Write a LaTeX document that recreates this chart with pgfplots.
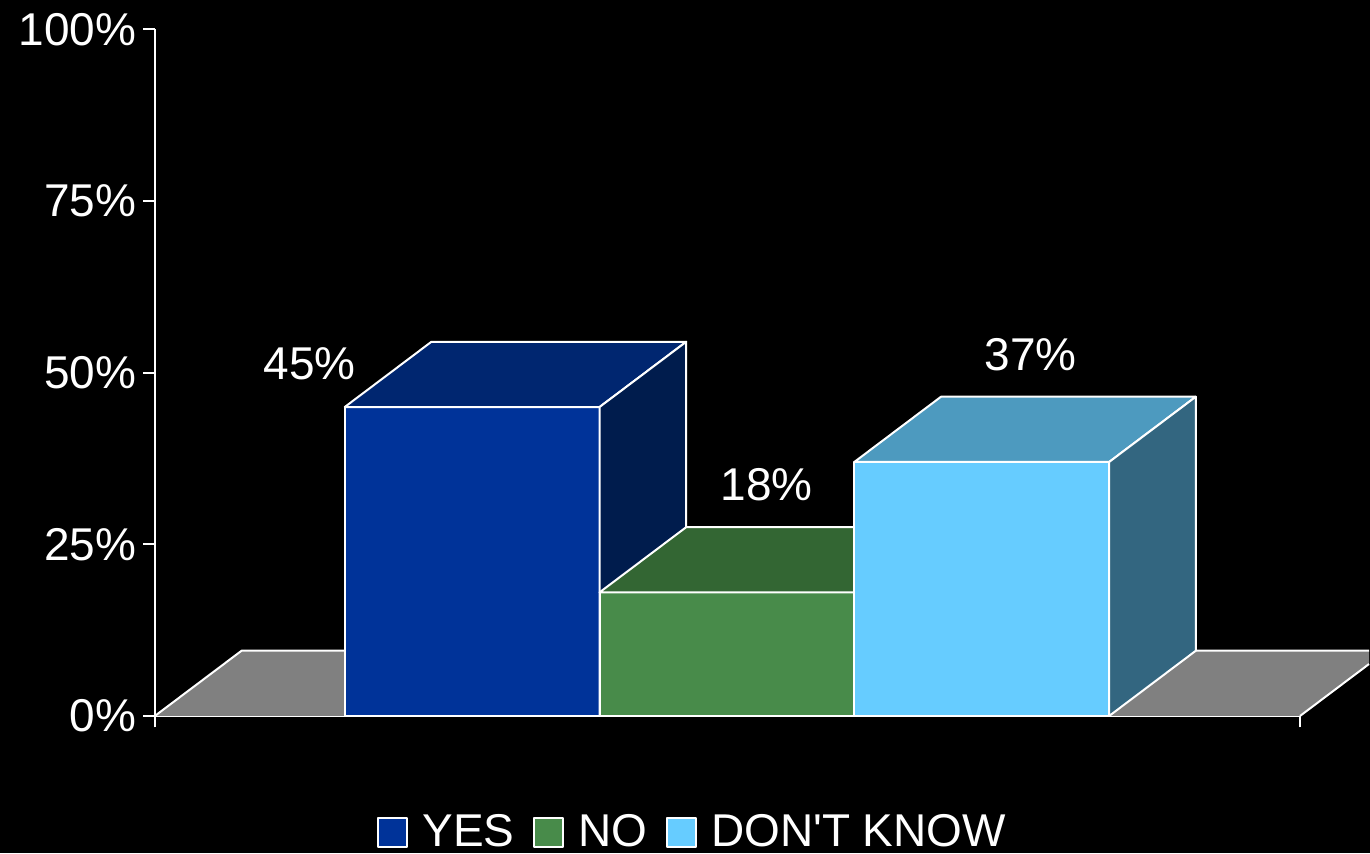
\documentclass[border=0pt]{standalone}
\usepackage{pgfplots}
\pgfplotsset{compat=1.18}
\usepackage{fontspec}
\setmainfont{Liberation Sans}[Ligatures=TeXOff]
\usetikzlibrary{backgrounds}
\definecolor{yesF}{RGB}{0,51,153}
\definecolor{yesT}{RGB}{0,38,112}
\definecolor{yesS}{RGB}{0,28,77}
\definecolor{noF}{RGB}{72,139,74}
\definecolor{noT}{RGB}{51,102,51}
\definecolor{noS}{RGB}{36,72,36}
\definecolor{dkF}{RGB}{102,204,255}
\definecolor{dkT}{RGB}{77,154,191}
\definecolor{dkS}{RGB}{51,102,128}
\definecolor{floorc}{RGB}{128,128,128}
\newcommand\chartfont{\fontsize{23}{27.6}\selectfont}
\begin{document}
\begin{tikzpicture}[show background rectangle, inner frame sep=0pt,
  background rectangle/.style={fill=black, draw=none}]
\begin{axis}[
  scale only axis,
  x=127.5pt, y=3.435pt,
  xmin=-0.245, xmax=4.249, ymin=0, ymax=100,
  axis x line*=bottom, axis y line*=left,
  axis line style={white, line width=1pt, -},
  ytick={0,25,50,75,100},
  yticklabel={\pgfmathprintnumber{\tick}\%},
  /pgf/number format/assume math mode=true,
  yticklabel style={font=\chartfont, text=white},
  xtick={-0.245,4.249}, xticklabels={},
  tick align=outside,
  major tick length=5.75pt,
  tick style={white, line width=1pt},
  clip=false,
  every axis plot/.append style={line join=round},
  legend style={draw=none, fill=none, text=white, font=\chartfont,
    inner sep=0pt, nodes={inner ysep=1pt},
    at={(0.4705,-0.1695)}, anchor=center, legend columns=3,
    /tikz/every odd column/.append style={column sep=5pt},
    /tikz/every even column/.append style={column sep=7.5pt}},
]
% bounding frame (invisible)
\path (axis cs:-0.853,-20.01) rectangle (axis cs:4.5196,104.29);
% floor
\addplot[fill=floorc, draw=none, forget plot] coordinates {(-0.245,0) (4.249,0) (4.5196,7.56) (4.5196,9.5) (0.095,9.5)} -- cycle;
\addplot[white, line width=1pt, forget plot] coordinates {(-0.245,0) (0.095,9.5) (4.5196,9.5)};
\addplot[white, line width=1pt, forget plot] coordinates {(4.249,0) (4.5196,7.56)};
% YES = 45
\addplot[ybar, bar width=1, bar shift=0, fill=yesF, draw=white, line width=1pt, forget plot] coordinates {(1,45)};
\addplot[fill=yesT, draw=white, line width=1pt, forget plot] coordinates {(0.5,45) (0.84,54.5) (1.84,54.5) (1.5,45)} -- cycle;
\addplot[fill=yesS, draw=white, line width=1pt, forget plot] coordinates {(1.5,0) (1.84,9.5) (1.84,54.5) (1.5,45)} -- cycle;
% NO = 18
\addplot[ybar, bar width=1, bar shift=0, fill=noF, draw=white, line width=1pt, forget plot] coordinates {(2,18)};
\addplot[fill=noT, draw=white, line width=1pt, forget plot] coordinates {(1.5,18) (1.84,27.5) (2.84,27.5) (2.5,18)} -- cycle;
\addplot[fill=noS, draw=white, line width=1pt, forget plot] coordinates {(2.5,0) (2.84,9.5) (2.84,27.5) (2.5,18)} -- cycle;
% DON'T KNOW = 37
\addplot[ybar, bar width=1, bar shift=0, fill=dkF, draw=white, line width=1pt, forget plot] coordinates {(3,37)};
\addplot[fill=dkT, draw=white, line width=1pt, forget plot] coordinates {(2.5,37) (2.84,46.5) (3.84,46.5) (3.5,37)} -- cycle;
\addplot[fill=dkS, draw=white, line width=1pt, forget plot] coordinates {(3.5,0) (3.84,9.5) (3.84,46.5) (3.5,37)} -- cycle;
% value labels
\addplot[draw=none, mark=none, forget plot, nodes near coords, point meta=explicit symbolic,
  nodes near coords align={center},
  every node near coord/.append style={anchor=center, text=white, font=\chartfont}]
  coordinates {(0.363,51.24)[45\%] (2.155,33.62)[18\%] (3.192,52.62)[37\%]};
% legend
\addlegendimage{legend image code/.code={\draw[fill=yesF,draw=white,line width=1pt] (0pt,-7.25pt) rectangle (14.5pt,7.25pt);}}
\addlegendentry{YES}
\addlegendimage{legend image code/.code={\draw[fill=noF,draw=white,line width=1pt] (0pt,-7.25pt) rectangle (14.5pt,7.25pt);}}
\addlegendentry{NO}
\addlegendimage{legend image code/.code={\draw[fill=dkF,draw=white,line width=1pt] (0pt,-7.25pt) rectangle (14.5pt,7.25pt);}}
\addlegendentry{DON'T KNOW}
\end{axis}
\end{tikzpicture}
\end{document}
